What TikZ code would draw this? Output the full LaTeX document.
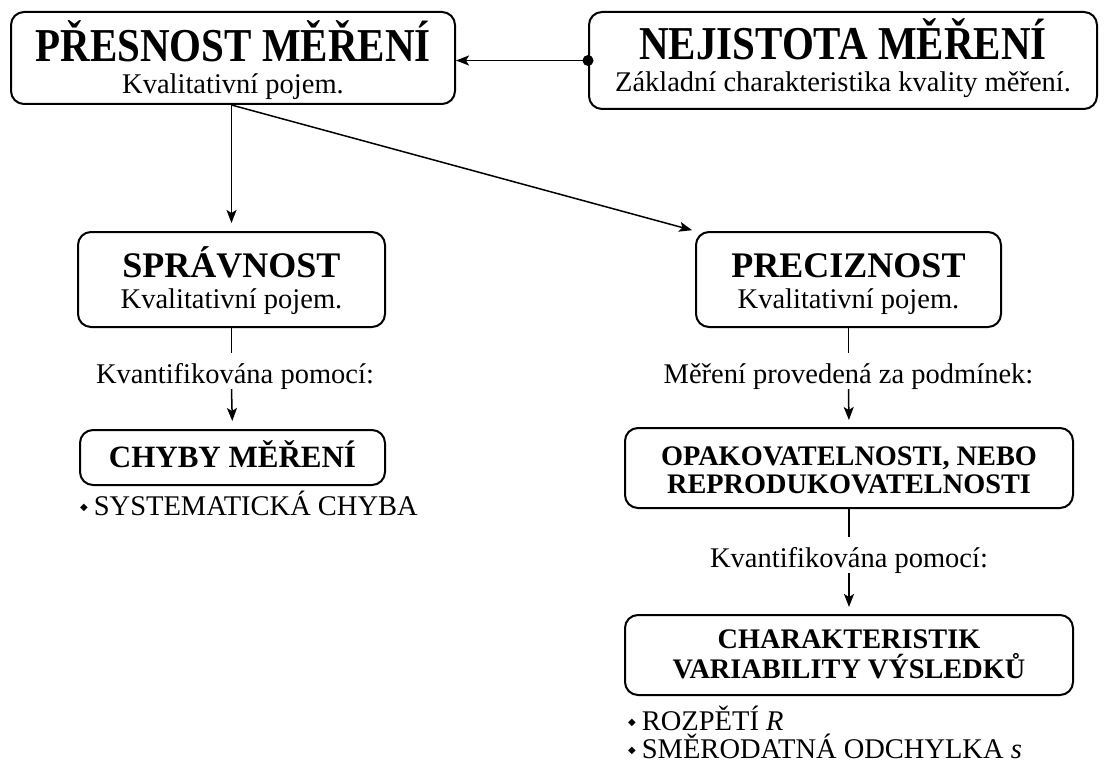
\documentclass[tikz,border=0pt]{standalone}
\usepackage{fontspec}
\setmainfont{Liberation Serif}
\newfontfamily\symfnt{DejaVu Sans}
\usetikzlibrary{arrows.meta}
\newcommand{\ftop}{\fontsize{41}{44}\selectfont\bfseries}
\newcommand{\fmidb}{\fontsize{36}{40}\selectfont\bfseries}
\newcommand{\flowb}{\fontsize{28.3}{30}\selectfont\bfseries}
\newcommand{\fbody}{\fontsize{28.5}{30}\selectfont}
\newcommand{\dia}{\raisebox{5pt}{\symfnt\fontsize{10}{10}\selectfont ◆}}
\newcommand{\tall}[1]{\scalebox{1}[1.15]{#1}}
\begin{document}
\begin{tikzpicture}[x=1pt,y=-1pt,
  box/.style={draw, line width=2pt, rounded corners=13pt, inner sep=0pt},
  ttop/.style={font=\ftop, inner sep=0pt, anchor=base},
  tmid/.style={font=\fmidb, inner sep=0pt, anchor=base},
  tlow/.style={font=\flowb, inner sep=0pt, anchor=base},
  tbody/.style={font=\fbody, inner sep=0pt, anchor=base},
  lbl/.style={font=\fbody, inner sep=0pt, text height=20pt, text depth=6pt},
  conn/.style={line width=1.5pt},
  arr/.style={line width=1.5pt, -{Stealth[length=13pt,width=10pt,inset=3pt]}},
  bul/.style={font=\fbody, inner sep=0pt, anchor=base west}
]
\fill[white] (0,0) rectangle (1105,762);
\useasboundingbox (0,0) rectangle (1105,762);

% top boxes
\node[box, minimum width=444, minimum height=92] (pres) at (233,58) {};
\node[ttop] (presT) at (233,62) {\tall{PŘESNOST MĚŘENÍ}};
\node[tbody] (presS) at (233,94) {Kvalitativní pojem.};

\node[box, minimum width=508, minimum height=97] (nej) at (843,60.5) {};
\node[ttop] (nejT) at (843,60) {\tall{NEJISTOTA MĚŘENÍ}};
\node[tbody] (nejS) at (843,92) {Základní charakteristika kvality měření.};

\draw[arr] (nej.west) -- (nej.west -| pres.east);
\fill (nej.west) circle (5.5pt);

% second row
\node[box, minimum width=307, minimum height=95] (spr) at (231.5,279.5) {};
\node[tmid] (sprT) at (231.5,277) {SPRÁVNOST};
\node[tbody] (sprS) at (231.5,308) {Kvalitativní pojem.};

\node[box, minimum width=305, minimum height=95] (prec) at (848.5,279.5) {};
\node[tmid] (precT) at (848.5,277) {PRECIZNOST};
\node[tbody] (precS) at (848.5,308) {Kvalitativní pojem.};

\coordinate (fork) at (pres.south -| spr.north);
\draw[arr, shorten >=8pt] (fork) -- (spr.north);
\draw[arr, shorten >=3pt] (fork) -- (prec.north west);

% left chain
\node[lbl, anchor=base] (kv1) at (235,383) {Kvantifikována pomocí:};
\node[box, minimum width=305, minimum height=55] (chy) at (232.5,457.5) {};
\node[tlow, font=\fontsize{31}{33}\selectfont\bfseries] (chyT) at (232.5,467) {CHYBY MĚŘENÍ};
\draw[conn, shorten >=10pt] (spr.south) -- (spr.south |- kv1.north);
\draw[arr, shorten >=8pt] (spr.south |- kv1.south) -- (chy.north);
\node[bul] (b1) at (80,515) {\dia\hspace{6pt}SYSTEMATICKÁ CHYBA};

% right chain
\node[lbl, anchor=base] (mp) at (848.5,383) {Měření provedená za podmínek:};
\node[box, minimum width=448, minimum height=80] (opak) at (849,468) {};
\node[tlow] (opakT1) at (849,465) {OPAKOVATELNOSTI, NEBO};
\node[tlow] (opakT2) at (849,493) {REPRODUKOVATELNOSTI};
\draw[conn, shorten >=10pt] (prec.south) -- (prec.south |- mp.north);
\draw[arr, shorten >=7pt] (prec.south |- mp.south) -- (opak.north);

\node[lbl, anchor=base] (kv2) at (849,567) {Kvantifikována pomocí:};
\node[box, minimum width=448, minimum height=80] (char) at (849,655) {};
\node[tlow] (charT1) at (849,648) {CHARAKTERISTIK};
\node[tlow] (charT2) at (849,678) {VARIABILITY VÝSLEDKŮ};
\draw[conn, shorten >=10pt] (opak.south) -- (opak.south |- kv2.north);
\draw[arr, shorten >=7pt] (opak.south |- kv2.south) -- (char.north);

\node[bul] (b2) at (628,730) {\dia\hspace{6pt}ROZPĚTÍ \textit{R}};
\node[bul] (b3) at (628,758) {\dia\hspace{6pt}SMĚRODATNÁ ODCHYLKA \textit{s}};
\end{tikzpicture}
\end{document}
